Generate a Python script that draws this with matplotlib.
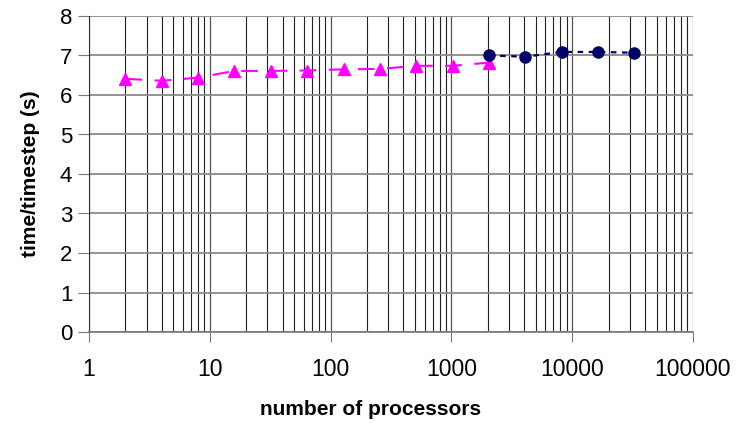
import matplotlib
matplotlib.use('Agg')
import matplotlib.pyplot as plt
from matplotlib.ticker import LogLocator, NullFormatter, FixedLocator, FixedFormatter

plt.rcParams['font.family'] = ['Liberation Sans', 'DejaVu Sans']

# series
procs_a = [2, 4, 8, 16, 32, 64, 128, 256, 512, 1024, 2048]
time_a = [6.41, 6.36, 6.44, 6.61, 6.61, 6.62, 6.65, 6.66, 6.74, 6.74, 6.82]
procs_b = [2048, 4096, 8192, 16384, 32768]
time_b = [7.00, 6.97, 7.09, 7.09, 7.07]

x_ticks = [1, 10, 100, 1000, 10000, 100000]
x_labels = ['1', '10', '100', '1000', '10000', '100000']
y_ticks = [0, 1, 2, 3, 4, 5, 6, 7, 8]

fig = plt.figure(figsize=(7.37, 4.23), dpi=100)
ax = fig.add_axes([89 / 737, 1 - 332 / 423, (693 - 89) / 737, (332 - 16) / 423])

ax.set_xscale('log')
ax.set_xlim(1, 100000)
ax.set_ylim(0, 8)

ax.xaxis.set_major_locator(FixedLocator(x_ticks))
ax.xaxis.set_major_formatter(FixedFormatter(x_labels))
ax.xaxis.set_minor_locator(LogLocator(base=10, subs=range(2, 10), numticks=20))
ax.xaxis.set_minor_formatter(NullFormatter())
ax.set_yticks(y_ticks)

ax.grid(True, which='major', axis='x', color='#555555', lw=0.9)
ax.grid(True, which='minor', axis='x', color='#222222', lw=0.8)
ax.grid(True, which='major', axis='y', color='#8a8a8a', lw=1.3)
ax.set_axisbelow(True)

ax.plot(procs_a, time_a, color='#ff00ff', ls=(0, (8, 6)), lw=1.5,
        marker='^', ms=9, mec='#ff00ff', mfc='#ff00ff', zorder=3)
ax.plot(procs_b, time_b, color='#000066', ls=(0, (2.5, 2.5)), lw=1.6,
        marker='o', ms=8, mec='#000066', mfc='#000066', zorder=4)

for side in ['top', 'right']:
    ax.spines[side].set_visible(False)
ax.spines['left'].set_color('#333333')
ax.spines['bottom'].set_color('#777777')
ax.spines['bottom'].set_linewidth(1.2)

ax.tick_params(axis='y', which='major', direction='out', length=8, color='#777777',
               labelsize=16, pad=4)
ax.tick_params(axis='x', which='major', direction='out', length=7, color='#777777',
               labelsize=16.5, pad=12)
ax.tick_params(axis='x', which='minor', length=0)

ax.set_xlabel('number of processors', fontsize=15, fontweight='bold')
ax.xaxis.set_label_coords(0.466, -0.215)
ax.set_ylabel('time/timestep (s)', fontsize=15, fontweight='bold', labelpad=14)

fig.savefig('out.png', dpi=100)
